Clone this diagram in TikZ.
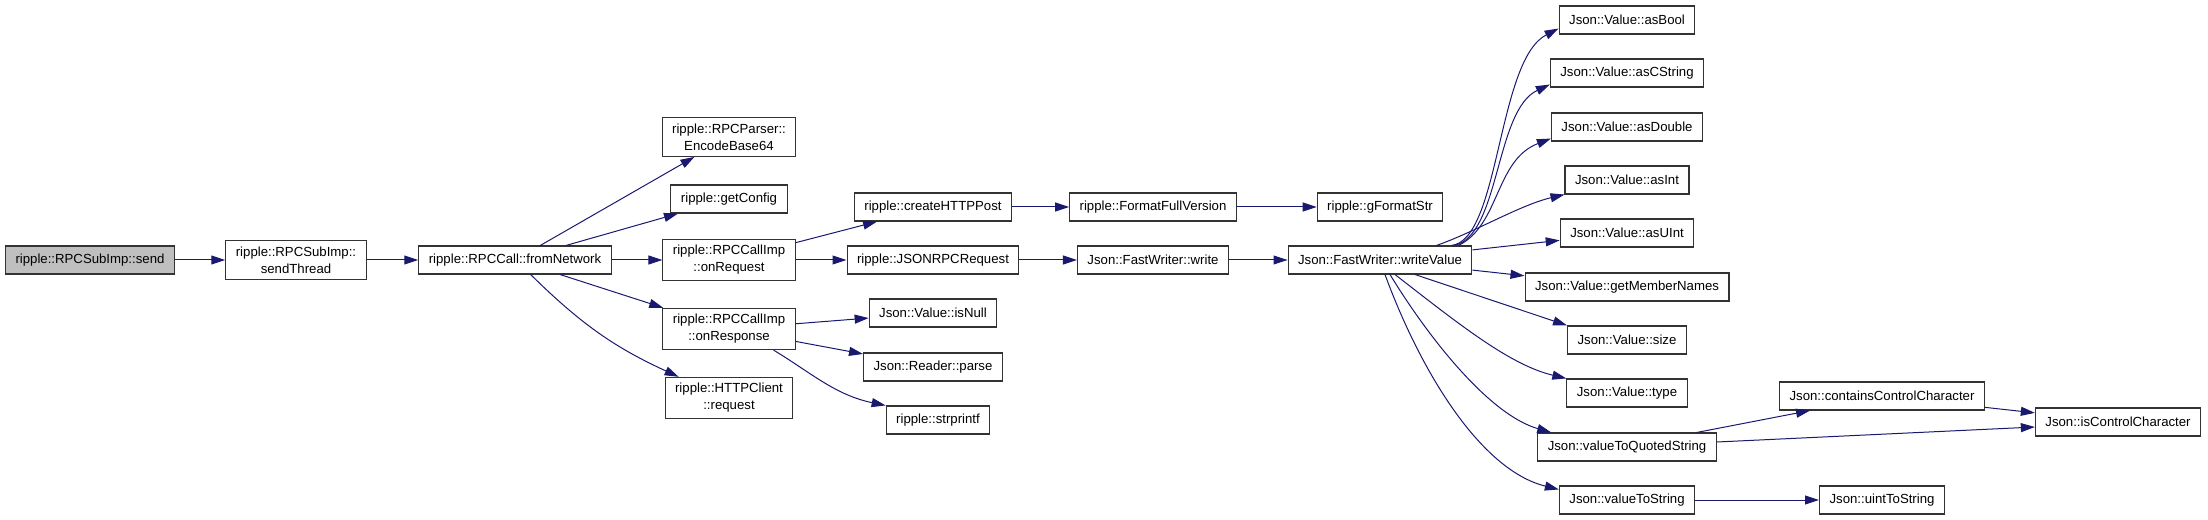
\documentclass[tikz,border=0pt]{standalone}
\usepackage{fontspec}
\setmainfont{Liberation Sans}
\usepackage{tikz}
\usetikzlibrary{arrows.meta}
\definecolor{callblue}{HTML}{191970}
\definecolor{boxline}{HTML}{333333}
\definecolor{rootfill}{HTML}{BFBFBF}
\begin{document}
\begin{tikzpicture}[x=1bp, y=-1bp,
	>={Triangle[length=14bp, width=9bp]},
	fn/.style={draw=boxline, line width=1.1bp, fill=white, align=center, inner xsep=10bp, inner ysep=6bp, minimum height=28bp, font=\fontsize{13.2bp}{17bp}\selectfont},
	call/.style={->, draw=callblue, line width=1bp}]
	\useasboundingbox (0, 0) rectangle (2208, 520);
	\node (send) at (90, 260) [fn, fill=rootfill] {ripple::RPCSubImp::send};
	\node (sendthread) at (296, 260) [fn] {ripple::RPCSubImp::\\sendThread};
	\node (fromnet) at (515, 260) [fn] {ripple::RPCCall::fromNetwork};
	\node (encode) at (729, 137) [fn] {ripple::RPCParser::\\EncodeBase64};
	\node (getconfig) at (729, 199) [fn] {ripple::getConfig};
	\node (onreq) at (729, 260) [fn] {ripple::RPCCallImp\\::onRequest};
	\node (onresp) at (729, 329) [fn] {ripple::RPCCallImp\\::onResponse};
	\node (httpreq) at (729, 398) [fn] {ripple::HTTPClient\\::request};
	\node (createpost) at (933, 207) [fn] {ripple::createHTTPPost};
	\node (jsonrpc) at (933, 260) [fn] {ripple::JSONRPCRequest};
	\node (isnull) at (933, 313) [fn] {Json::Value::isNull};
	\node (parse) at (933, 367) [fn] {Json::Reader::parse};
	\node (strprintf) at (938, 420) [fn] {ripple::strprintf};
	\node (fullver) at (1153, 207) [fn] {ripple::FormatFullVersion};
	\node (fwwrite) at (1153, 260) [fn] {Json::FastWriter::write};
	\node (gformat) at (1380, 207) [fn] {ripple::gFormatStr};
	\node (wv) at (1380, 260) [fn] {Json::FastWriter::writeValue};
	\node (asbool) at (1627, 20) [fn] {Json::Value::asBool};
	\node (ascstring) at (1627, 73) [fn] {Json::Value::asCString};
	\node (asdouble) at (1627, 127) [fn] {Json::Value::asDouble};
	\node (asint) at (1627, 180) [fn] {Json::Value::asInt};
	\node (asuint) at (1627, 233) [fn] {Json::Value::asUInt};
	\node (members) at (1627, 287) [fn] {Json::Value::getMemberNames};
	\node (size) at (1627, 340) [fn] {Json::Value::size};
	\node (type) at (1627, 393) [fn] {Json::Value::type};
	\node (quoted) at (1627, 447) [fn] {Json::valueToQuotedString};
	\node (tostring) at (1627, 500) [fn] {Json::valueToString};
	\node (containsctl) at (1882, 396) [fn] {Json::containsControlCharacter};
	\node (isctl) at (2118, 422) [fn] {Json::isControlCharacter};
	\node (uinttostr) at (1882, 500) [fn] {Json::uintToString};

	\draw [call] (send) -- (sendthread);
	\draw [call] (sendthread) -- (fromnet);
	\draw [call] (fromnet) -- (encode);
	\draw [call] (fromnet) -- (getconfig);
	\draw [call] (fromnet) -- (onreq);
	\draw [call] (fromnet) -- (onresp);
	\draw [call] (fromnet) to [bend right=10] (httpreq);
	\draw [call] (onreq) -- (createpost);
	\draw [call] (onreq) -- (jsonrpc);
	\draw [call] (onresp) -- (isnull);
	\draw [call] (onresp) -- (parse);
	\draw [call] ([xshift=-22bp]onresp.south east) .. controls (810, 372) and (835, 395) .. (strprintf.north west);
	\draw [call] (createpost) -- (fullver);
	\draw [call] (fullver) -- (gformat);
	\draw [call] (jsonrpc) -- (fwwrite);
	\draw [call] (fwwrite) -- (wv);
	\draw [call] ([xshift=-21bp]wv.north east) .. controls (1500, 240) and (1497, 60) .. ([yshift=6bp]asbool.south west);
	\draw [call] ([xshift=-18bp]wv.north east) .. controls (1500, 235) and (1495, 110) .. ([yshift=3bp]ascstring.south west);
	\draw [call] ([xshift=-14bp]wv.north east) .. controls (1500, 225) and (1495, 160) .. ([yshift=3bp]asdouble.south west);
	\draw [call] ([xshift=-36bp]wv.north east) .. controls (1475, 232) and (1520, 205) .. (asint.south west);
	\draw [call] (wv) -- (asuint);
	\draw [call] (wv) -- (members);
	\draw [call] ([xshift=35bp]wv.south) -- (size.north west);
	\draw [call] ([xshift=15bp]wv.south) .. controls (1460, 325) and (1510, 365) .. (type.north west);
	\draw [call] ([xshift=10bp]wv.south) .. controls (1430, 340) and (1490, 415) .. ([xshift=14bp]quoted.north west);
	\draw [call] ([xshift=5bp]wv.south) .. controls (1420, 370) and (1480, 470) .. ([yshift=-4bp]tostring.north west);
	\draw [call] ([xshift=-20bp]quoted.north east) -- ([xshift=31bp]containsctl.south west);
	\draw [call] ([yshift=5bp]quoted.east) -- ([yshift=-5bp]isctl.west);
	\draw [call] (containsctl) -- (isctl);
	\draw [call] (tostring) -- (uinttostr);
\end{tikzpicture}
\end{document}
